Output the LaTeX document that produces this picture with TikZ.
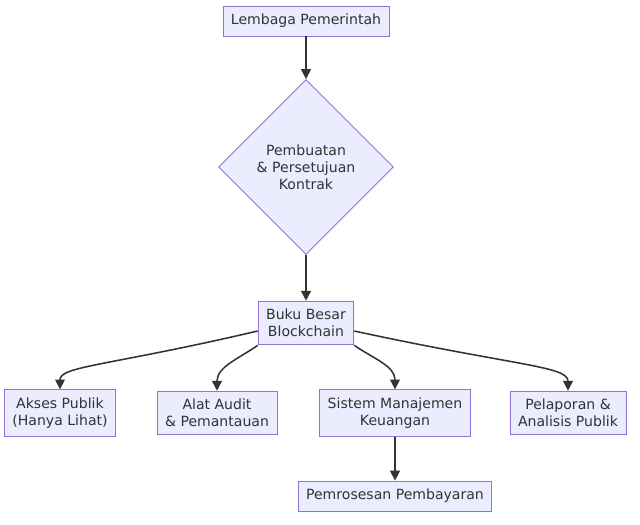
\documentclass[tikz,border=0pt]{standalone}
\usepackage{fontspec}
\setmainfont{DejaVu Sans}
\usetikzlibrary{shapes.geometric,arrows.meta,positioning}
\definecolor{nodefill}{HTML}{ECECFF}
\definecolor{nodeline}{HTML}{9370DB}
\definecolor{ink}{HTML}{333333}

\begin{document}
\begin{tikzpicture}[
  font=\fontsize{10}{12}\selectfont,
  box/.style={draw=nodeline, fill=nodefill, text=ink, line width=0.6pt, inner xsep=0.2cm, inner ysep=0.2cm, minimum height=0.75cm, align=center},
  decision/.style={diamond, draw=nodeline, fill=nodefill, text=ink, line width=0.6pt, minimum width=4.375cm, minimum height=4.375cm, inner sep=0pt, align=center},
  arr/.style={-{Triangle[length=7pt,width=7pt]}, line width=1.1pt, ink},
]
\useasboundingbox (0,0) rectangle (16,-13.1);
\node[box] (gov) at (7.65,-0.525) {Lembaga Pemerintah};
\node[decision] (contract) at (7.65,-4.175) {Pembuatan\\\& Persetujuan\\Kontrak};
\node[box] (ledger) at (7.65,-8.075) {Buku Besar\\Blockchain};
\node[box] (public) at (1.5,-10.325) {Akses Publik\\(Hanya Lihat)};
\node[box] (audit) at (5.425,-10.325) {Alat Audit\\\& Pemantauan};
\node[box] (finance) at (9.875,-10.325) {Sistem Manajemen\\Keuangan};
\node[box] (report) at (14.2,-10.325) {Pelaporan \&\\Analisis Publik};
\node[box] (payment) at (9.875,-12.4) {Pemrosesan Pembayaran};
\draw[arr] (gov) -- (contract);
\draw[arr] (contract) -- (ledger);
\draw[arr] (ledger.west |- 0,-8.275) .. controls (2.7,-9.15) and (1.5,-9.15) .. (public.north);
\draw[arr] (ledger.south west) to[out=215, in=90] (audit.north);
\draw[arr] (ledger.south east) to[out=-35, in=90] (finance.north);
\draw[arr] (ledger.east |- 0,-8.275) .. controls (12.9,-9.15) and (14.2,-9.15) .. (report.north);
\draw[arr] (finance) -- (payment);
\end{tikzpicture}
\end{document}
